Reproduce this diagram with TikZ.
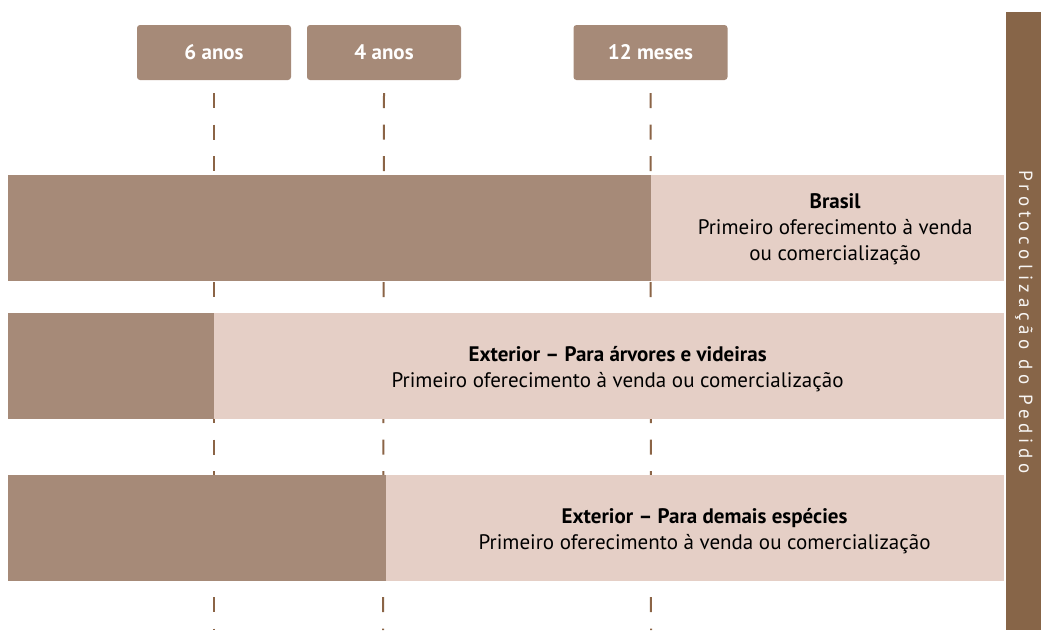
\documentclass[tikz,border=0pt]{standalone}
\usepackage{fontspec}
\setmainfont{PT Sans}
\newfontfamily\sidefont[LetterSpace=25]{PT Sans}
\usetikzlibrary{positioning}
\definecolor{barDark}{HTML}{A68A78}
\definecolor{barLight}{HTML}{E5CFC6}
\definecolor{guide}{HTML}{8B6446}
\definecolor{sidebar}{HTML}{876548}
\tikzset{period/.style={fill=barDark, rounded corners=3pt, text=white, inner sep=0pt,
    minimum width=154pt, minimum height=55pt, font=\bfseries\fontsize{21}{24}\selectfont},
    olddone/.style={fill=barDark, inner sep=0pt, minimum height=106pt, anchor=north west},
    sale/.style={fill=barLight, inner sep=0pt, minimum height=106pt, anchor=west},
    salelabel/.style={align=center, inner sep=0pt, font=\fontsize{21}{26}\selectfont},
    guideline/.style={draw=guide, line width=2pt, dash pattern=on 15pt off 16.5pt}}

\begin{document}
\begin{tikzpicture}[x=1pt, y=-1pt]
    \useasboundingbox (0,0) rectangle (1041,630);
    % periodos
    \node[period] (y6) at (214,52.5) {6 anos};
    \node[period] (y4) at (384,52.5) {4 anos};
    \node[period] (m12) at (650.5,52.5) {12 meses};
    \coordinate (y6end) at (214,630);
    \coordinate (y4end) at (383,630);
    \coordinate (m12end) at (651,630);
    \draw[guideline] ([yshift=-13pt]y6.south) -- (y6end);
    \draw[guideline] ([yshift=-13pt]y4.south) -- (y4end);
    \draw[guideline] ([yshift=-13pt]m12.south) -- (m12end);
    % barras
    \node[olddone, minimum width=643pt] (br) at (8,175) {};
    \node[sale, minimum width=353pt] (brs) at ([xshift=-1pt]br.east) {};
    \node[salelabel] (brt) at ([xshift=8pt, yshift=-1pt]brs.center) {\textbf{Brasil}\\Primeiro oferecimento à venda\\ou comercialização};
    \node[olddone, minimum width=206pt] (av) at (8,313) {};
    \node[sale, minimum width=790pt] (avs) at ([xshift=-1pt]av.east) {};
    \node[salelabel] (avt) at ([xshift=9pt, yshift=-3pt]avs.center) {\textbf{Exterior -- Para árvores e videiras}\\Primeiro oferecimento à venda ou comercialização};
    \node[olddone, minimum width=378pt] (de) at (8,475) {};
    \node[sale, minimum width=618pt] (des) at ([xshift=-1pt]de.east) {};
    \node[salelabel] (det) at ([xshift=10pt, yshift=-3pt]des.center) {\textbf{Exterior -- Para demais espécies}\\Primeiro oferecimento à venda ou comercialização};
    % protocolizacao
    \node[fill=sidebar, inner sep=0pt, minimum width=35pt, minimum height=618pt, anchor=north west] (ped) at (1006,12) {};
    \node[rotate=-90, text=white!94!sidebar, font=\sidefont\fontsize{19}{21}\selectfont] (pedtxt) at (1024,322) {Protocolização do Pedido};
\end{tikzpicture}
\end{document}
